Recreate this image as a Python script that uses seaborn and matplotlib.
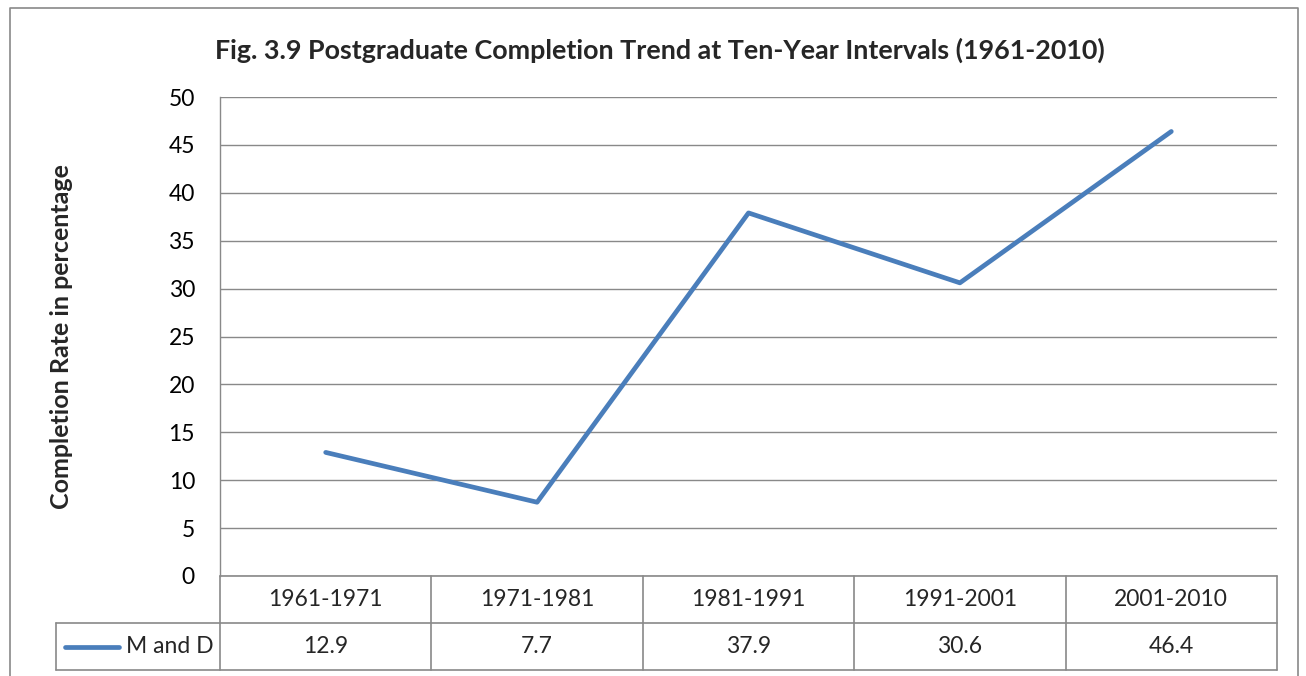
import numpy as np
import pandas as pd
import matplotlib
matplotlib.use('Agg')
import matplotlib.pyplot as plt
import seaborn as sns

# values (Fig. 3.9)
periods = ['1961-1971', '1971-1981', '1981-1991', '1991-2001', '2001-2010']
completion = [12.9, 7.7, 37.9, 30.6, 46.4]
series_name = 'M and D'
y_ticks = [0, 5, 10, 15, 20, 25, 30, 35, 40, 45, 50]
title = 'Fig. 3.9 Postgraduate Completion Trend at Ten-Year Intervals (1961-2010)'
y_label = 'Completion Rate in percentage'

df = pd.DataFrame({'pos': np.arange(len(periods)), 'period': periods, 'rate': completion})

sns.set_theme(style='white')
plt.rcParams['font.family'] = ['Lato', 'DejaVu Sans']

line_color = '#4a7ebb'
grid_color = '#898989'
fs = 16.5

W, H = 1306, 676
fig = plt.figure(figsize=(W / 100, H / 100), dpi=100)


def box(l, t, r, b):  # pixel box -> figure fraction
    return [l / W, 1 - b / H, (r - l) / W, (b - t) / H]


ax = fig.add_axes(box(220, 97, 1277, 576))
sns.lineplot(data=df, x='pos', y='rate', ax=ax, color=line_color, linewidth=3.4, legend=False)
ax.set_xlim(-0.5, len(periods) - 0.5)
ax.set_ylim(0, 50)
ax.set_yticks(y_ticks)
ax.set_xticks([])
ax.set_xlabel('')
ax.set_ylabel('')
ax.yaxis.grid(True, color=grid_color, linewidth=1)
ax.set_axisbelow(True)
for s in ['top', 'right', 'bottom']:
    ax.spines[s].set_visible(False)
ax.spines['left'].set_color(grid_color)
ax.spines['left'].set_linewidth(1)
ax.tick_params(axis='y', length=0, labelsize=fs, pad=18, colors='black')

# data table under the plot
tab = fig.add_axes(box(220, 576, 1277, 670), sharex=ax)
tab.set_ylim(0, 2)
tab.axis('off')
n = len(periods)
col_w = (1277 - 220) / n
lab_left = -0.5 - (220 - 56) / col_w
kw = dict(color=grid_color, linewidth=1.2, clip_on=False)
tab.plot([-0.5, n - 0.5], [2, 2], **kw)
tab.plot([lab_left, n - 0.5], [1, 1], **kw)
tab.plot([lab_left, n - 0.5], [0, 0], **kw)
for i in range(n + 1):
    tab.plot([i - 0.5, i - 0.5], [0, 2], **kw)
tab.plot([lab_left, lab_left], [0, 1], **kw)
for i, p in enumerate(periods):
    tab.text(i, 1.5, p, ha='center', va='center', fontsize=fs)
    tab.text(i, 0.5, f'{completion[i]:.1f}', ha='center', va='center', fontsize=fs)
key_x0 = -0.5 - (220 - 65) / col_w
key_x1 = -0.5 - (220 - 119) / col_w
tab.plot([key_x0, key_x1], [0.5, 0.5], color=line_color, linewidth=3.4, clip_on=False,
         solid_capstyle='round')
tab.text(-0.5 - 6 / col_w, 0.5, series_name, ha='right', va='center', fontsize=fs)

fig.text(660 / W, 1 - 50 / H, title, ha='center', va='center', fontsize=19.4, fontweight='bold')
fig.text(62 / W, 1 - 337 / H, y_label, ha='center', va='center', rotation=90,
         fontsize=18, fontweight='bold')

# outer chart border
bx = [10 / W, 10 / W, 1298 / W, 1298 / W]
by = [0, 1 - 8 / H, 1 - 8 / H, 0]
fig.add_artist(plt.Line2D(bx, by, color=grid_color, linewidth=1.2, transform=fig.transFigure))

fig.savefig('out.png', dpi=100)
